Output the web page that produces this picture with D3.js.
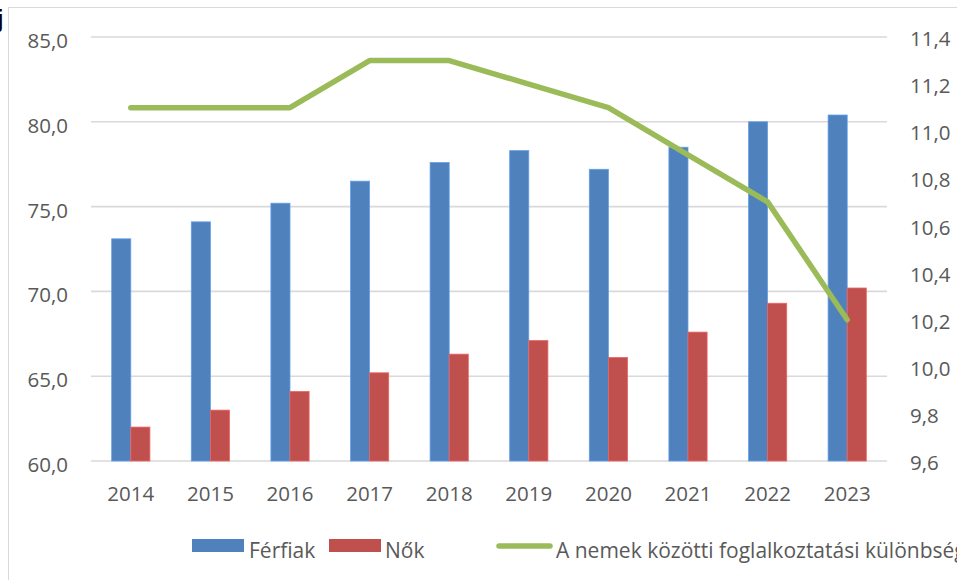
<!DOCTYPE html>
<html><head><meta charset="utf-8">
<script src="https://cdn.jsdelivr.net/npm/d3@7"></script>
<style>body{margin:0;background:#fff;overflow:hidden}svg{display:block;font-family:"Open Sans",sans-serif}</style>
</head><body><svg id="c" width="957" height="580"></svg>
<script>
const years = ["2014","2015","2016","2017","2018","2019","2020","2021","2022","2023"];
const ferfiak = [73.1,74.1,75.2,76.5,77.6,78.3,77.2,78.5,80.0,80.4];
const nok = [62.0,63.0,64.1,65.2,66.3,67.1,66.1,67.6,69.3,70.2];
const gap = [11.1,11.1,11.1,11.3,11.3,11.2,11.1,10.9,10.7,10.2];
const leftTicks = [60,65,70,75,80,85];
const rightTicks = [9.6,9.8,10.0,10.2,10.4,10.6,10.8,11.0,11.2,11.4];
const seriesNames = ["Férfiak","Nők","A nemek közötti foglalkoztatási különbség"];
const colors = ["#4F81BD","#C0504D","#9BBB59"];

const svg = d3.select("#c");
const L = 91, R = 887, T = 37, B = 461;
const x = d3.scaleBand().domain(years).range([L,R]).paddingInner(0.52).paddingOuter(0.26);
const yL = d3.scaleLinear().domain([60,85]).range([B,T]);
const yR = d3.scaleLinear().domain([9.6,11.4]).range([B,T]);
const fmt = d => d3.format(".1f")(d).replace(".",",");
const txt = "#595959";

// chart border
svg.append("rect").attr("x",8.5).attr("y",7.5).attr("width",1000).attr("height",600)
  .attr("fill","none").attr("stroke","#D9D9D9").attr("stroke-width",1);
svg.append("text").attr("x",-3).attr("y",27).attr("font-family","Liberation Sans, sans-serif")
  .attr("font-weight","bold").attr("font-size",23).attr("fill","#000").text("j");

// gridlines
svg.append("g").selectAll("line").data(leftTicks).join("line")
  .attr("x1",L).attr("x2",R).attr("y1",d=>yL(d)).attr("y2",d=>yL(d))
  .attr("stroke","#D9D9D9").attr("stroke-width",1.6);

// left axis
const gL = svg.append("g").attr("transform",`translate(${68},4)`)
  .call(d3.axisLeft(yL).tickValues(leftTicks).tickFormat(fmt).tickSize(0).tickPadding(0));
gL.select(".domain").remove();
gL.selectAll("text").attr("font-size",20.5).attr("fill",txt).attr("font-family","Open Sans, sans-serif");

// right axis
const gR = svg.append("g").attr("transform",`translate(${910},2)`)
  .call(d3.axisRight(yR).tickValues(rightTicks).tickFormat(fmt).tickSize(0).tickPadding(0));
gR.select(".domain").remove();
gR.selectAll("text").attr("font-size",20.5).attr("fill",txt).attr("font-family","Open Sans, sans-serif");

// x axis
const gX = svg.append("g").attr("transform",`translate(0,${B+25})`)
  .call(d3.axisBottom(x).tickSize(0).tickPadding(0));
gX.select(".domain").remove();
gX.selectAll("text").attr("font-size",20.5).attr("fill",txt).attr("font-family","Open Sans, sans-serif");

const sub = d3.scaleBand().domain([0,1]).range([0,x.bandwidth()]);
// bars
[ferfiak,nok].forEach((arr,si)=>{
  svg.append("g").selectAll("rect").data(arr).join("rect")
    .attr("x",(d,i)=>x(years[i])+sub(si))
    .attr("width",sub.bandwidth())
    .attr("y",d=>yL(d)).attr("height",d=>B-yL(d))
    .attr("fill",colors[si]).attr("stroke",d3.color(colors[si]).brighter(0.6)).attr("stroke-width",0.8);
});

// line
const line = d3.line().x((d,i)=>x(years[i])+x.bandwidth()/2).y(d=>yR(d));
svg.append("path").datum(gap).attr("d",line).attr("fill","none")
  .attr("stroke",colors[2]).attr("stroke-width",5.5).attr("stroke-linecap","round").attr("stroke-linejoin","round");

// legend
const lg = svg.append("g").attr("font-size",21).attr("font-family","Open Sans, sans-serif");
lg.append("rect").attr("x",192).attr("y",539).attr("width",52).attr("height",13).attr("fill",colors[0]);
lg.append("text").attr("x",249).attr("y",558).attr("fill",txt).text(seriesNames[0]);
lg.append("rect").attr("x",329).attr("y",539).attr("width",52).attr("height",13).attr("fill",colors[1]);
lg.append("text").attr("x",385).attr("y",558).attr("fill",txt).text(seriesNames[1]);
lg.append("line").attr("x1",499).attr("x2",550).attr("y1",546).attr("y2",546)
  .attr("stroke",colors[2]).attr("stroke-width",5.5).attr("stroke-linecap","round");
lg.append("text").attr("x",556).attr("y",558).attr("fill",txt).text(seriesNames[2]);
</script></body></html>
